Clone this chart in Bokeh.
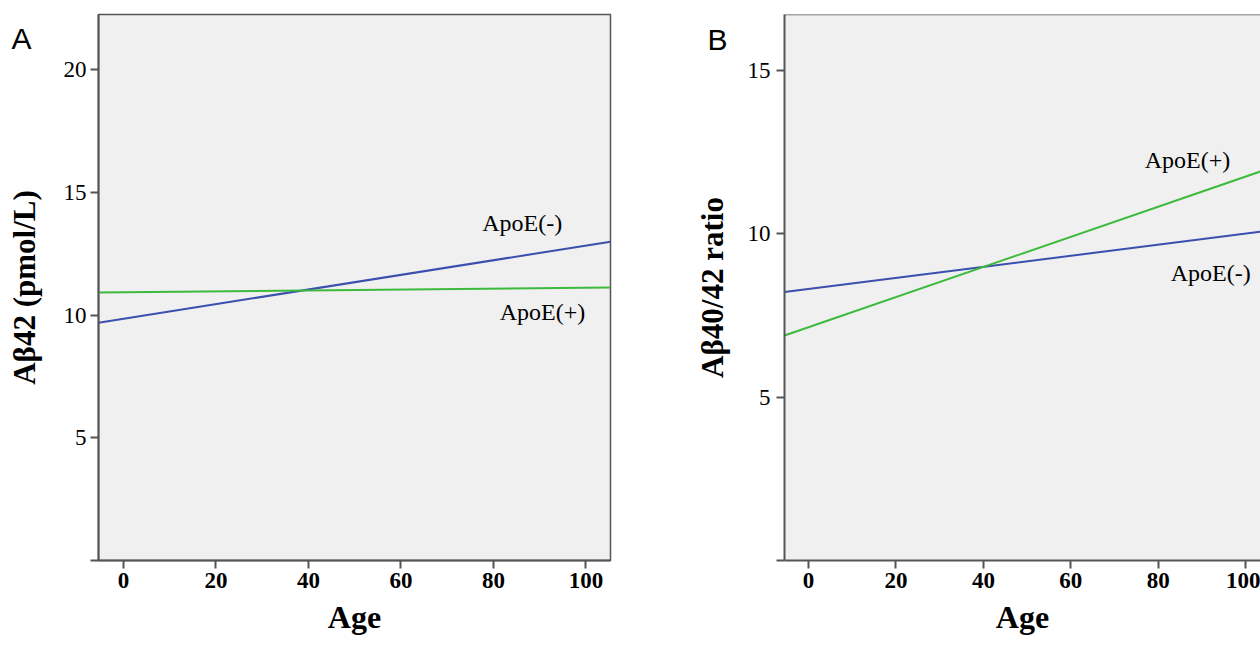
from bokeh.plotting import figure
from bokeh.models import Range1d, FixedTicker, Span, LinearAxis, Label
from bokeh.layouts import row
from bokeh.embed import file_html
from bokeh.resources import INLINE

# ---- data (fitted regression lines by ApoE status) ----
# Panel A: Abeta42 (pmol/L) vs Age
age_a = [-5.4, 105.3]
apoe_neg_a = [9.69, 12.99]
apoe_pos_a = [10.92, 11.12]
# Panel B: Abeta40/42 ratio vs Age
age_b = [-5.5, 105.3]
apoe_neg_b = [8.22, 10.10]
apoe_pos_b = [6.89, 12.00]

x_ticks = [0, 20, 40, 60, 80, 100]
y_ticks_a = [0, 5, 10, 15, 20]
y_ticks_b = [0, 5, 10, 15]

BLUE = "#3b4fae"
GREEN = "#3cba3c"
FRAME = "#555555"
SERIF = "Liberation Serif"


def make_panel(width, xr, yr, yticks, ylabel, border_left, border_right,
               tick_standoff, title_standoff):
    p = figure(width=width, height=646, x_range=Range1d(*xr), y_range=Range1d(*yr),
               output_backend="svg", toolbar_location=None,
               min_border_left=border_left, min_border_right=border_right,
               min_border_top=14, min_border_bottom=86)
    p.background_fill_color = "#f0f0f0"
    p.border_fill_color = "white"
    p.grid.visible = False
    p.outline_line_color = FRAME
    p.outline_line_width = 1.5
    for ax in p.axis:
        ax.axis_line_color = FRAME
        ax.axis_line_width = 2
        ax.major_tick_line_color = FRAME
        ax.major_tick_line_width = 2
        ax.major_tick_out = 8
        ax.major_tick_in = 0
        ax.minor_tick_line_color = None
        ax.major_label_text_font = SERIF
        ax.major_label_text_font_size = "23px"
        ax.major_label_text_color = "black"
    p.xaxis.ticker = FixedTicker(ticks=x_ticks)
    p.xaxis.major_label_text_font_style = "bold"
    p.xaxis.major_label_standoff = 4
    p.xaxis.axis_label = "Age"
    p.xaxis.axis_label_text_font = SERIF
    p.xaxis.axis_label_text_font_size = "32px"
    p.xaxis.axis_label_text_font_style = "bold"
    p.xaxis.axis_label_text_color = "black"
    p.xaxis.axis_label_standoff = 8
    p.yaxis.ticker = FixedTicker(ticks=yticks)
    p.yaxis.major_label_overrides = {0: ""}
    p.yaxis.major_label_standoff = tick_standoff
    p.yaxis.axis_label = ylabel
    p.yaxis.axis_label_text_font = SERIF
    p.yaxis.axis_label_text_font_size = "31px"
    p.yaxis.axis_label_text_font_style = "bold"
    p.yaxis.axis_label_text_color = "black"
    p.yaxis.axis_label_standoff = title_standoff
    return p


def add_panel_letter(p, y, letter, standoff):
    # an outer, line-less axis whose single tick label is the panel letter
    ax = LinearAxis(ticker=FixedTicker(ticks=[y]), major_label_overrides={y: letter},
                    axis_line_color=None, major_tick_line_color=None,
                    minor_tick_line_color=None, major_tick_out=0, major_tick_in=0,
                    major_label_standoff=standoff,
                    major_label_text_font="Liberation Sans",
                    major_label_text_font_size="30px",
                    major_label_text_color="black")
    p.add_layout(ax, "left")


def add_text(p, x, y, t):
    p.add_layout(Label(x=x, y=y, text=t, text_font=SERIF, text_font_size="24px",
                       text_align="center", text_baseline="middle", text_color="black"))


# ---- Panel A ----
pa = make_panel(690, (-5.4, 105.3), (0, 22.25), y_ticks_a, "Aβ42 (pmol/L)", 98, 80, 4, 19)
pa.line(age_a, apoe_neg_a, line_color=BLUE, line_width=2)
pa.line(age_a, apoe_pos_a, line_color=GREEN, line_width=2)
add_text(pa, 86.2, 13.77, "ApoE(-)")
add_text(pa, 90.6, 10.14, "ApoE(+)")
add_panel_letter(pa, 21.27, "\u00a0A", -28)

# ---- Panel B ----
pb = make_panel(570, (-5.5, 103.4), (0, 16.72), y_ticks_b, "Aβ40/42 ratio", 94, 0, 6, 15)
pb.outline_line_color = None
pb.add_layout(Span(location=16.72, dimension="width", line_color=FRAME, line_width=1.5))
pb.line(age_b, apoe_neg_b, line_color=BLUE, line_width=2)
pb.line(age_b, apoe_pos_b, line_color=GREEN, line_width=2)
add_text(pb, 86.7, 12.26, "ApoE(+)")
add_text(pb, 92.0, 8.81, "ApoE(-)")
add_panel_letter(pb, 15.95, "\u00a0B", -36)

layout = row(pa, pb)
open("out.html", "w").write(file_html(layout, INLINE))
